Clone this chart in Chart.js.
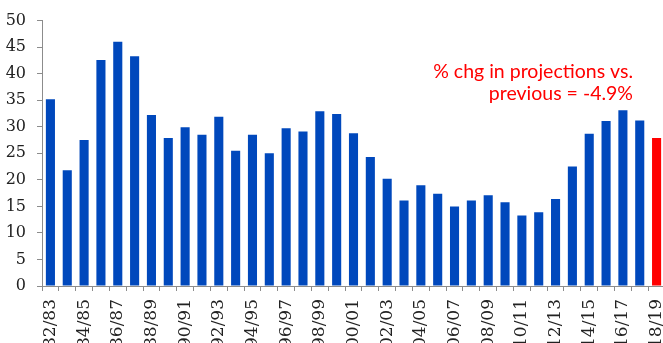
<!DOCTYPE html>
<html>
<head>
<meta charset="utf-8">
<script src="https://cdn.jsdelivr.net/npm/chart.js@4/dist/chart.umd.min.js"></script>
<style>
    html, body { margin: 0; padding: 0; background: #fff; overflow: hidden; }
    #wrap { width: 665px; height: 365px; }
</style>
</head>
<body>
<div id="wrap"><canvas id="chart" width="665" height="365"></canvas></div>
<script>
/* ---------- Data ---------- */
const seasons = [
    "82/83", "83/84", "84/85", "85/86", "86/87", "87/88", "88/89", "89/90",
    "90/91", "91/92", "92/93", "93/94", "94/95", "95/96", "96/97", "97/98",
    "98/99", "99/00", "00/01", "01/02", "02/03", "03/04", "04/05", "05/06",
    "06/07", "07/08", "08/09", "09/10", "10/11", "11/12", "12/13", "13/14",
    "14/15", "15/16", "16/17", "17/18", "18/19"
];

const values = [
    35.2, 21.8, 27.5, 42.6, 46.0, 43.3, 32.2, 27.9, 29.9, 28.5,
    31.9, 25.5, 28.5, 25.0, 29.7, 29.1, 32.9, 32.4, 28.8, 24.3,
    20.2, 16.1, 19.0, 17.4, 15.0, 16.1, 17.1, 15.8, 13.3, 13.9,
    16.4, 22.5, 28.7, 31.1, 33.1, 31.2, 27.9
];

const yTicks = [0, 5, 10, 15, 20, 25, 30, 35, 40, 45, 50];

const noteLines = ["% chg in projections vs.", "previous = -4.9%"];

const BLUE = "#0048BC";
const RED = "#FF0000";
const AXIS = "#8c8c8c";

/* last season is the projection -> red */
const barColors = values.map((v, i) => i === values.length - 1 ? RED : BLUE);

/* ---------- Annotation plugin ---------- */
const notePlugin = {
    id: "note",
    afterDraw(chart) {
        const c = chart.ctx;
        c.save();
        c.fillStyle = RED;
        c.font = "19.5px Lato, 'Noto Sans', sans-serif";
        c.textAlign = "right";
        c.textBaseline = "alphabetic";
        c.fillText(noteLines[0], 633, 78);
        c.fillText(noteLines[1], 633, 100);
        c.restore();
    }
};

/* ---------- Chart ---------- */
new Chart(document.getElementById("chart"), {
    type: "bar",
    data: {
        labels: seasons,
        datasets: [{
            data: values,
            backgroundColor: barColors,
            borderWidth: 0,
            categoryPercentage: 1.0,
            barPercentage: 0.54
        }]
    },
    options: {
        responsive: false,
        animation: false,
        devicePixelRatio: 1,
        layout: { padding: { top: 14, right: 0, left: 0, bottom: 0 } },
        plugins: {
            legend: { display: false },
            tooltip: { enabled: false }
        },
        scales: {
            x: {
                afterFit: s => {
                    s.height = 79;
                    s.paddingLeft = 0;
                    s.paddingRight = 0;
                },
                grid: {
                    drawOnChartArea: false,
                    drawTicks: true,
                    tickLength: 5,
                    color: AXIS
                },
                border: { color: AXIS, width: 1 },
                ticks: {
                    autoSkip: false,
                    minRotation: 90,
                    maxRotation: 90,
                    padding: 8,
                    color: "#222",
                    font: { family: "'DejaVu Serif', serif", size: 17 },
                    callback: (v, i) => i % 2 === 0 ? seasons[i] : ""
                }
            },
            y: {
                min: 0,
                max: 50,
                afterFit: s => { s.width = 42; },
                afterBuildTicks: s => { s.ticks = yTicks.map(v => ({ value: v })); },
                grid: {
                    drawOnChartArea: false,
                    drawTicks: true,
                    tickLength: 5,
                    color: AXIS
                },
                border: { color: AXIS, width: 1 },
                ticks: {
                    padding: 11,
                    color: "#222",
                    font: { family: "'DejaVu Serif', serif", size: 16 }
                }
            }
        }
    },
    plugins: [notePlugin]
});
</script>
</body>
</html>
